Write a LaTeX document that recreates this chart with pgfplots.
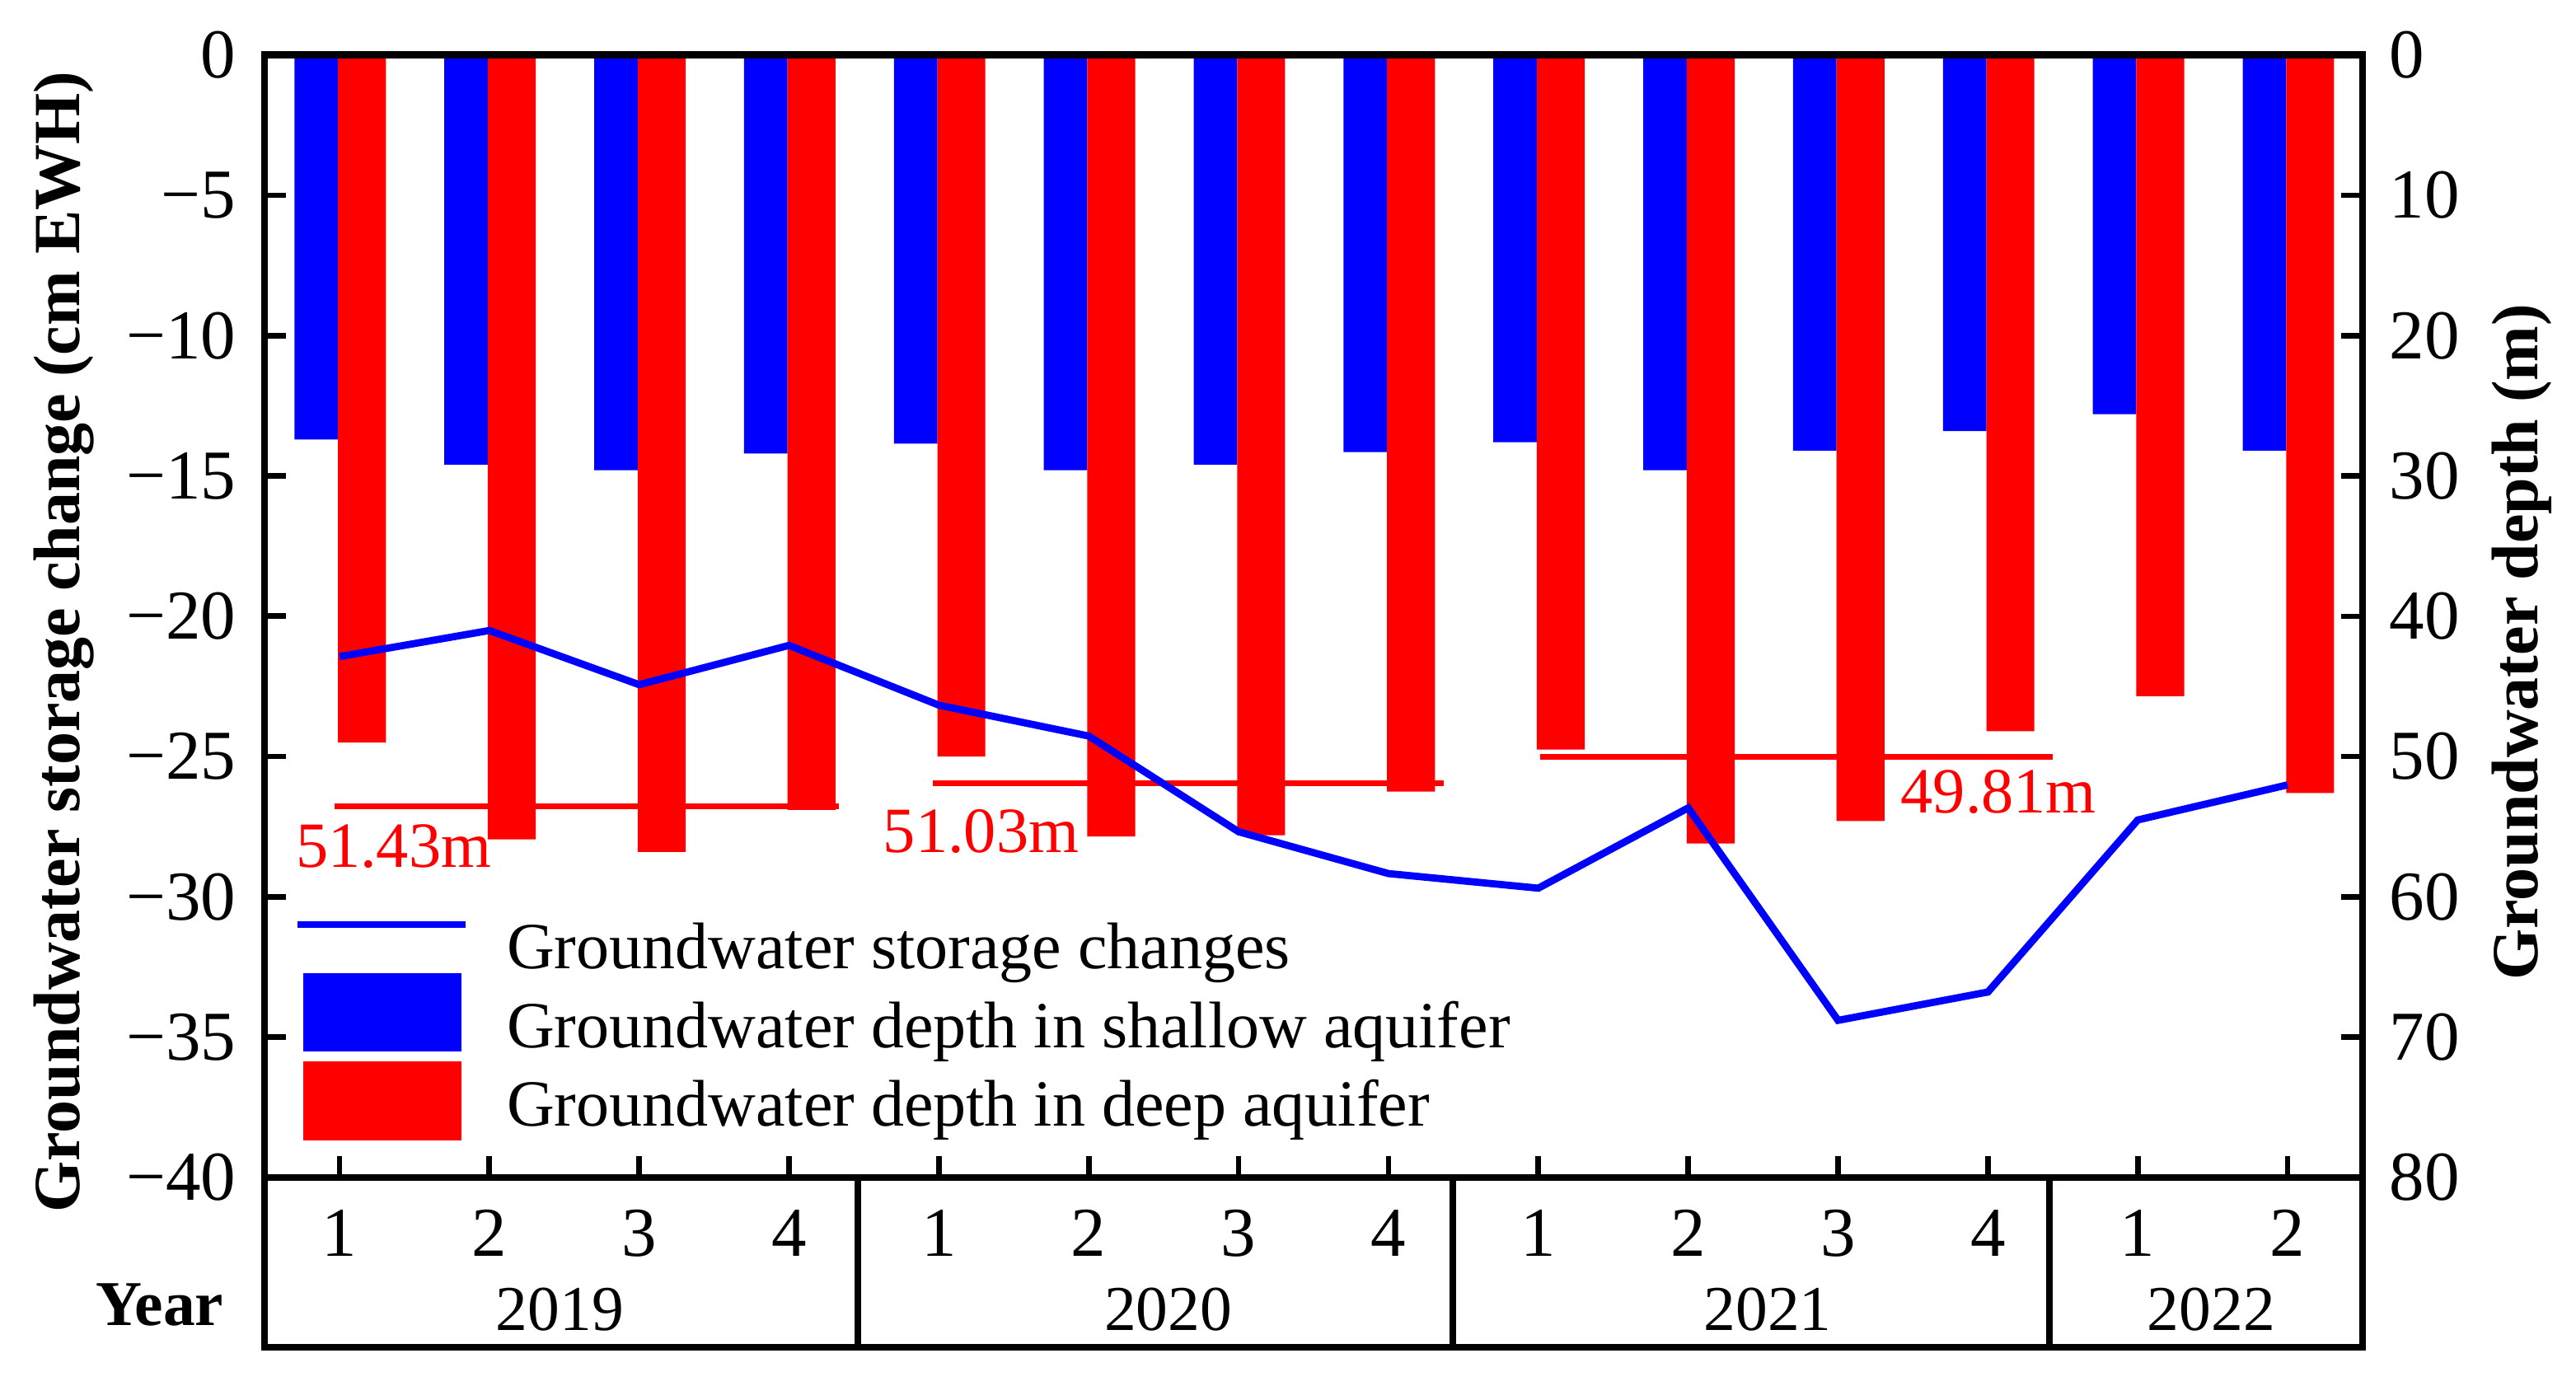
\documentclass[border=0pt]{standalone}
\usepackage{fontspec}
\setmainfont{Liberation Serif}
\usepackage{pgfplots}
\pgfplotsset{compat=1.18}
\newcommand{\fs}[1]{\fontsize{#1}{#1}\selectfont}
\begin{document}
\begin{tikzpicture}
\pgfplotsset{
  common/.style={
    scale only axis, width=305.52pt, height=163.5pt,
    xmin=-0.5, xmax=13.5,
    axis line style={line width=1pt},
    major tick length=3.1pt,
    every tick/.style={line width=0.8pt, black},
    tick align=inside,
  }
}
% ---------- right axis: groundwater depth (bars) ----------
\begin{axis}[common,
  ymin=0, ymax=80, y dir=reverse,
  ytick={0,10,...,80},
  ytick pos=right, yticklabel pos=right,
  xtick=\empty,
  /pgf/number format/assume math mode=true,
  yticklabel style={font=\fs{10.2}, anchor=west, inner sep=0pt, xshift=3.7pt},
  ylabel={Groundwater depth (m)},
  ylabel style={font=\fs{9.6}\bfseries, at={(axis description cs:1.0759,0.477)}, anchor=center},
  legend style={at={(axis description cs:0.0157,0.2268)}, anchor=north west,
    draw=none, fill=none, inner sep=0pt, outer sep=0pt,
    row sep=2.76pt, column sep=6pt, font=\fs{9.6},
    nodes={inner sep=0pt, text height=6.7pt, text depth=2pt}},
  legend cell align=left,
]
\addlegendimage{legend image code/.code={
  \draw[blue, line width=1pt, overlay] (0pt,4.15pt) -- (24.5pt,4.15pt);
  \path[draw=none, fill=none] (0pt,0pt) -- (24.5pt,0pt);}}
\addlegendentry{Groundwater storage changes}
\addplot[ybar, bar width=0.29, bar shift=-0.155, fill=blue, draw=none,
  legend image code/.code={
  \fill[blue, overlay] (0.85pt,-2.85pt) rectangle (23.9pt,8.45pt);
  \path[draw=none, fill=none] (0pt,0pt) -- (24.5pt,0pt);}]
  coordinates {(0,27.4) (1,29.2) (2,29.6) (3,28.4) (4,27.7) (5,29.6) (6,29.2)
               (7,28.3) (8,27.6) (9,29.6) (10,28.2) (11,26.8) (12,25.6) (13,28.2)};
\addlegendentry{Groundwater depth in shallow aquifer}
\addplot[ybar, bar width=0.32, bar shift=0.15, fill=red, draw=none,
  legend image code/.code={
  \fill[red, overlay] (0.85pt,-4.35pt) rectangle (23.9pt,7.15pt);
  \path[draw=none, fill=none] (0pt,0pt) -- (24.5pt,0pt);}]
  coordinates {(0,49.0) (1,55.9) (2,56.8) (3,53.8) (4,50.0) (5,55.7) (6,55.6)
               (7,52.5) (8,49.5) (9,56.2) (10,54.6) (11,48.2) (12,45.7) (13,52.6)};
\addlegendentry{Groundwater depth in deep aquifer}
\end{axis}
% ---------- left axis: storage change (line) ----------
\begin{axis}[common,
  ymin=-40, ymax=0,
  ytick={-40,-35,...,0},
  yticklabels={−40,−35,−30,−25,−20,−15,−10,−5,0},
  ytick pos=left,
  yticklabel style={font=\fs{10.2}, anchor=east, inner sep=0pt, xshift=-4pt},
  xtick={0,...,13}, xtick pos=bottom,
  xticklabels={1,2,3,4,1,2,3,4,1,2,3,4,1,2},
  xticklabel style={font=\fs{10.2}, anchor=base, inner sep=0pt, yshift=-11.4pt},
  ylabel={Groundwater storage change (cm EWH)},
  ylabel style={font=\fs{9.6}\bfseries, at={(axis description cs:-0.0958,0.477)}, anchor=center},
  clip=false,
]
\addplot[red, line width=0.8pt, forget plot] coordinates {(-0.03,-26.77) (3.33,-26.77)};
\addplot[red, line width=0.8pt, forget plot] coordinates {(3.96,-25.95) (7.37,-25.95)};
\addplot[red, line width=0.8pt, forget plot] coordinates {(8.01,-25.02) (11.43,-25.02)};
\node[red, font=\fs{9.4}, anchor=north west, inner sep=0pt] at (axis cs:-0.30,-27.36) {51.43m};
\node[red, font=\fs{9.4}, anchor=north west, inner sep=0pt] at (axis cs:3.62,-26.83) {51.03m};
\node[red, font=\fs{9.4}, anchor=north west, inner sep=0pt] at (axis cs:10.41,-25.43) {49.81m};
\addplot[blue, line width=1.05pt, mark=none] coordinates {
  (0,-21.44) (1,-20.51) (2,-22.44) (3,-21.04) (4,-23.17) (5,-24.27) (6,-27.68)
  (7,-29.17) (8,-29.69) (9,-26.83) (10,-34.4) (11,-33.39) (12,-27.26) (13,-26.01)};
% year table below the axis
\draw[line width=0.9pt] (axis cs:-0.5,-40) -- (axis cs:-0.5,-46.04) -- (axis cs:13.5,-46.04) -- (axis cs:13.5,-40);
\draw[line width=0.9pt] (axis cs:3.46,-40) -- (axis cs:3.46,-46.04);
\draw[line width=0.9pt] (axis cs:7.43,-40) -- (axis cs:7.43,-46.04);
\draw[line width=0.9pt] (axis cs:11.41,-40) -- (axis cs:11.41,-46.04);
\node[font=\fs{9.3}, anchor=base] at (axis cs:1.47,-45.45) {2019};
\node[font=\fs{9.3}, anchor=base] at (axis cs:5.53,-45.45) {2020};
\node[font=\fs{9.3}, anchor=base] at (axis cs:9.53,-45.45) {2021};
\node[font=\fs{9.3}, anchor=base] at (axis cs:12.49,-45.45) {2022};
\node[font=\fs{9.3}\bfseries, anchor=base] at (axis cs:-1.2,-45.26) {Year};
\end{axis}
\pgfresetboundingbox
\useasboundingbox (-38.52pt,-30.24pt) rectangle (336.6pt,171.48pt);
\end{tikzpicture}
\end{document}
